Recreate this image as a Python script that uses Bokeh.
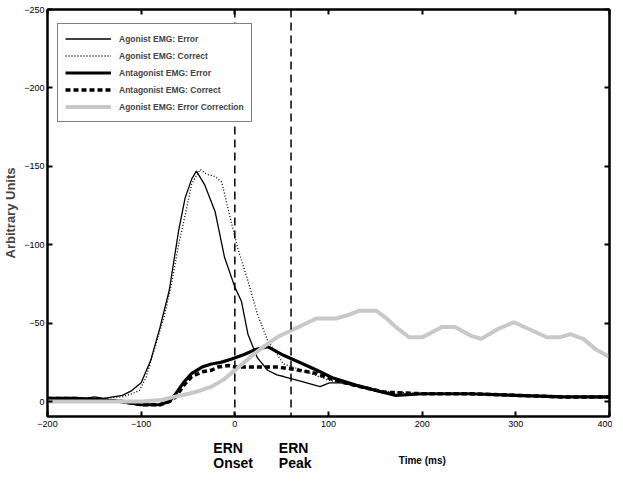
from bokeh.plotting import figure
from bokeh.layouts import column
from bokeh.models import (Range1d, LinearAxis, FixedTicker, Span, Legend, LegendItem,
                          CustomJSTickFormatter, ColumnDataSource)
from bokeh.core.properties import value
from bokeh.embed import file_html
from bokeh.resources import INLINE

# ---------------- data ----------------
agonist_error_x = [-200, -190, -180, -170, -160, -150, -140, -130, -120, -110, -100, -90, -80, -70, -60, -53, -46, -41, -32, -21, -11, 0, 7, 14, 24, 35, 45, 52, 70, 91, 101, 115, 140, 172, 193, 250, 300, 350, 400]
agonist_error_y = [-1, -2, -1, -1, -2, -3, -2, -3, -4, -7, -12, -26, -47, -71, -109, -130, -142, -147, -138, -121, -92, -73, -64, -43, -28, -20, -17, -16, -13, -9.5, -12, -12, -8.5, -4, -5, -5, -4, -3, -3]

agonist_correct_x = [-200, -180, -160, -140, -120, -110, -102, -95, -85, -75, -67, -60, -53, -46, -37, -30, -21, -14, -4, 3, 14, 24, 35, 52, 72, 98, 120, 150, 200, 250, 300, 350, 400]
agonist_correct_y = [-2, -1, -2, -2, -3, -5, -7, -15, -35, -55, -77, -100, -119, -139, -148, -145, -143.5, -140, -115, -98, -77, -56, -39, -24, -20, -14, -11, -7, -5, -5, -4, -3, -2]

antagonist_error_x = [-200, -170, -140, -120, -110, -100, -90, -80, -70, -63, -55, -46, -35, -25, -15, -4, 10, 21, 35, 52, 73, 91, 105, 129, 158, 172, 200, 250, 300, 350, 400]
antagonist_error_y = [-2, -2, -1, 0, 1, 2, 2, 2, 0, -5, -12, -18, -22, -24, -25, -27, -30, -33, -35, -29.5, -24, -19, -15, -10.5, -6, -4, -5, -5, -4, -3, -3]

antagonist_correct_x = [-200, -170, -140, -120, -100, -90, -80, -70, -63, -55, -46, -35, -25, -18, -7, 0, 20, 45, 59, 87, 105, 130, 160, 200, 250, 300, 350, 400]
antagonist_correct_y = [-2, -2, -1, 0, 2, 2, 2, 0, -3, -10, -16, -19, -20, -22, -23, -22, -22, -22, -21, -18, -14, -10, -6, -5, -5, -4, -3, -3]

error_correction_x = [-200, -150, -120, -100, -78, -65, -49, -37, -25, -12, 0, 10, 21, 33, 45, 59, 73, 87, 108, 120, 133, 151, 162, 172, 186, 200, 210, 221, 235, 252, 263, 280, 298, 315, 333, 347, 358, 372, 386, 400]
error_correction_y = [0, 0, 0, 0, -1, -3, -5, -7, -9.5, -14, -20, -25, -30.6, -36, -41, -45, -49, -53, -53, -55, -58, -58, -53, -47.5, -41, -41, -44, -47.5, -47.5, -42, -40, -46, -50.6, -46, -41, -41, -43, -40, -33, -28.5]

series_names = ["Agonist EMG: Error", "Agonist EMG: Correct", "Antagonist EMG: Error",
                "Antagonist EMG: Correct", "Agonist EMG: Error Correction"]
x_ticks = [-200, -100, 0, 100, 200, 300, 400]
y_ticks = [0, -50, -100, -150, -200, -250]
ern_markers = [0, 60]

# annotation texts below the x axis (x in ms, row index)
note_texts = ["ERN", "Onset", "ERN", "Peak"]
note_x = [-23, -23, 47, 47]
note_row = [0, 1, 0, 1]
xlabel_text = "Time (ms)"
xlabel_x = 175

FONT = "Liberation Sans"
FRAME_W = 562
FRAME_H = 407
LEFT = 40
RIGHT = 3

p = figure(title=None, frame_width=FRAME_W, frame_height=FRAME_H, output_backend="svg", toolbar_location=None,
           x_range=Range1d(-200, 400), y_range=Range1d(9.5, -250),
           min_border_left=LEFT, min_border_right=RIGHT, min_border_top=9, min_border_bottom=14)
p.xgrid.visible = False
p.ygrid.visible = False
p.outline_line_color = "black"
p.outline_line_width = 2

bottom_axis = p.below[0]
left_axis = p.left[0]
top_axis = LinearAxis(formatter=CustomJSTickFormatter(code="return ''"))
right_axis = LinearAxis(formatter=CustomJSTickFormatter(code="return ''"))
p.add_layout(top_axis, "above")
p.add_layout(right_axis, "right")

for ax, ticks in [(bottom_axis, x_ticks), (top_axis, x_ticks), (left_axis, y_ticks), (right_axis, y_ticks)]:
    ax.ticker = FixedTicker(ticks=ticks)
    ax.axis_line_width = 2
    ax.axis_line_color = "black"
    ax.major_tick_in = 5
    ax.major_tick_out = 0
    ax.major_tick_line_width = 2
    ax.minor_tick_line_color = None
    ax.major_label_text_font = FONT
    ax.major_label_text_font_size = "9px"
    ax.major_label_text_color = "black"
    ax.major_label_standoff = 3

bottom_axis.major_label_standoff = 4
top_axis.major_label_standoff = 0
right_axis.major_label_standoff = 0

left_axis.axis_label = "Arbitrary Units"
left_axis.axis_label_text_font = FONT
left_axis.axis_label_text_font_size = "13px"
left_axis.axis_label_text_font_style = "bold"
left_axis.axis_label_standoff = 3

for m in ern_markers:
    p.add_layout(Span(location=m, dimension="height", line_color="black",
                      line_width=1.5, line_dash="8 5"))

r1 = p.line(agonist_error_x, agonist_error_y, line_color="black", line_width=1.3)
r2 = p.line(agonist_correct_x, agonist_correct_y, line_color="black", line_width=1.3, line_dash="1 2")
r3 = p.line(antagonist_error_x, antagonist_error_y, line_color="black", line_width=3.2)
r4 = p.line(antagonist_correct_x, antagonist_correct_y, line_color="black", line_width=3.5, line_dash="5 3")
r5 = p.line(error_correction_x, error_correction_y, line_color="#c8c8c8", line_width=4)

legend = Legend(items=[LegendItem(label=n, renderers=[r]) for n, r in zip(series_names, [r1, r2, r3, r4, r5])],
                location=(10, FRAME_H - 16 - 97))
legend.label_text_font = FONT
legend.label_text_font_size = "8.5px"
legend.label_text_font_style = "bold"
legend.glyph_width = 46
legend.glyph_height = 15
legend.label_height = 15
legend.spacing = 2
legend.padding = 7
legend.label_standoff = 8
legend.border_line_color = "black"
legend.border_line_width = 1.5
legend.background_fill_alpha = 1
p.add_layout(legend, "center")

# ---- strip below the chart for the ERN notes and the x axis title ----
STRIP_H = 40
p2 = figure(title=None, frame_width=FRAME_W, frame_height=STRIP_H, output_backend="svg", toolbar_location=None,
            x_range=p.x_range, y_range=Range1d(STRIP_H, 0),
            x_axis_location=None, y_axis_location=None,
            min_border_left=LEFT, min_border_right=RIGHT, min_border_top=0, min_border_bottom=0)
p2.xgrid.visible = False
p2.ygrid.visible = False
p2.outline_line_color = None

row_baseline = [17, 32]
src = ColumnDataSource(dict(x=note_x, y=[row_baseline[r] for r in note_row], t=note_texts))
p2.text(x="x", y="y", text="t", source=src, text_font=value(FONT), text_font_size="14px",
        text_font_style="bold", text_baseline="alphabetic", text_align="left", text_color="black")
p2.text(x=[xlabel_x], y=[30], text=[xlabel_text], text_font=value(FONT), text_font_size="10px",
        text_font_style="bold", text_baseline="alphabetic", text_align="left", text_color="black")

layout = column(p, p2, spacing=0)
open("out.html", "w").write(file_html(layout, INLINE))
